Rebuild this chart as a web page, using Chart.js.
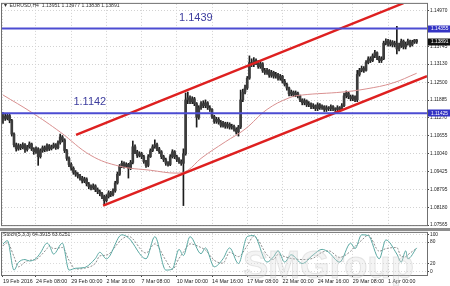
<!DOCTYPE html>
<html>
<head>
<meta charset="utf-8">
<script src="https://cdn.jsdelivr.net/npm/chart.js@4.4.0/dist/chart.umd.min.js"></script>
<style>
  body { margin: 0; background: #fff; width: 450px; height: 286px; overflow: hidden; position: relative; }
  canvas { position: absolute; left: 0; }
  #main { top: 0; }
  #stoch { top: 229px; }
  #sep { position: absolute; left: 0; top: 228px; width: 450px; height: 3px; background: #8e8e8e; }
</style>
</head>
<body>
<div id="sep"></div>
<canvas id="main" width="450" height="229"></canvas>
<canvas id="stoch" width="450" height="57"></canvas>
<script>
// EURUSD H4 bars
const firstOpen = 1.1128;
const closes = [
  1.1132,1.1125,1.1135,1.1118,1.1071,1.1034,1.1020,1.1031,1.1024,1.1034,
  1.1017,1.1027,1.1037,1.1020,1.1010,1.1020,1.0993,1.1014,1.1024,1.1017,
  1.1031,1.1020,1.1027,1.1034,1.1024,1.1041,1.1061,1.1051,1.1014,1.0987,
  1.0966,1.0953,1.0939,1.0932,1.0926,1.0919,1.0909,1.0916,1.0899,1.0889,
  1.0886,1.0892,1.0879,1.0872,1.0865,1.0855,1.0841,1.0855,1.0868,1.0862,
  1.0875,1.0902,1.0932,1.0960,1.0970,1.0960,1.0966,1.0953,1.0973,1.1027,
  1.1010,1.0997,1.1003,1.0993,1.0976,1.0963,1.0993,1.1014,1.1027,1.1034,
  1.1020,1.1010,1.0993,1.0983,1.0970,1.0966,1.0993,1.1010,1.0993,1.0983,
  1.0976,1.0970,1.1003,1.1189,1.1196,1.1183,1.1193,1.1176,1.1129,1.1162,
  1.1176,1.1169,1.1179,1.1162,1.1156,1.1132,1.1115,1.1122,1.1112,1.1101,
  1.1108,1.1098,1.1105,1.1095,1.1098,1.1088,1.1078,1.1095,1.1189,1.1216,
  1.1230,1.1264,1.1318,1.1311,1.1325,1.1318,1.1304,1.1314,1.1291,1.1284,
  1.1291,1.1274,1.1284,1.1271,1.1277,1.1264,1.1271,1.1254,1.1243,1.1230,
  1.1210,1.1216,1.1206,1.1213,1.1203,1.1189,1.1179,1.1186,1.1172,1.1176,
  1.1166,1.1169,1.1159,1.1172,1.1162,1.1166,1.1156,1.1162,1.1159,1.1166,
  1.1159,1.1156,1.1162,1.1156,1.1169,1.1203,1.1213,1.1200,1.1193,1.1200,
  1.1189,1.1277,1.1291,1.1298,1.1291,1.1318,1.1331,1.1325,1.1341,1.1352,
  1.1335,1.1325,1.1331,1.1385,1.1392,1.1382,1.1389,1.1379,1.1385,1.1365,
  1.1375,1.1392,1.1372,1.1382,1.1392,1.1379,1.1389,1.1396,1.1389
];
const highs = [
  1.1145,1.1140,1.1142,1.1140,1.1122,1.1075,1.1040,1.1038,1.1036,1.1041,
  1.1038,1.1032,1.1044,1.1040,1.1024,1.1027,1.1024,1.1020,1.1030,1.1030,
  1.1037,1.1035,1.1033,1.1040,1.1038,1.1048,1.1071,1.1066,1.1055,1.1018,
  1.0992,1.0972,1.0958,1.0945,1.0938,1.0932,1.0925,1.0922,1.0920,1.0904,
  1.0896,1.0899,1.0896,1.0885,1.0878,1.0870,1.0860,1.0862,1.0875,1.0873,
  1.0882,1.0908,1.0940,1.0966,1.0978,1.0975,1.0972,1.0970,1.0980,1.1047,
  1.1034,1.1015,1.1010,1.1008,1.0998,1.0980,1.1000,1.1020,1.1034,1.1051,
  1.1040,1.1025,1.1014,1.0998,1.0988,1.0976,1.1000,1.1017,1.1014,1.0998,
  1.0990,1.0982,1.1020,1.1213,1.1216,1.1203,1.1200,1.1198,1.1180,1.1169,
  1.1183,1.1186,1.1189,1.1183,1.1169,1.1159,1.1136,1.1129,1.1128,1.1118,
  1.1115,1.1112,1.1112,1.1110,1.1105,1.1102,1.1093,1.1101,1.1223,1.1226,
  1.1240,1.1270,1.1341,1.1331,1.1335,1.1331,1.1325,1.1321,1.1318,1.1298,
  1.1298,1.1294,1.1291,1.1288,1.1284,1.1281,1.1277,1.1274,1.1260,1.1247,
  1.1233,1.1223,1.1220,1.1220,1.1216,1.1206,1.1193,1.1193,1.1189,1.1183,
  1.1179,1.1176,1.1172,1.1179,1.1176,1.1172,1.1169,1.1169,1.1166,1.1172,
  1.1169,1.1162,1.1169,1.1166,1.1176,1.1213,1.1220,1.1216,1.1206,1.1206,
  1.1203,1.1291,1.1298,1.1306,1.1304,1.1325,1.1338,1.1338,1.1348,1.1360,
  1.1355,1.1340,1.1338,1.1392,1.1400,1.1398,1.1396,1.1394,1.1392,1.1443,
  1.1385,1.1399,1.1396,1.1389,1.1399,1.1396,1.1395,1.1398,1.1398
];
const lows = [
  1.1108,1.1118,1.1120,1.1110,1.1064,1.1027,1.1012,1.1015,1.1017,1.1020,
  1.1008,1.1012,1.1022,1.1014,1.1001,1.1004,1.0963,1.0988,1.1008,1.1010,
  1.1012,1.1014,1.1016,1.1022,1.1018,1.1020,1.1036,1.1044,1.1007,1.0980,
  1.0958,1.0946,1.0932,1.0925,1.0919,1.0912,1.0902,1.0903,1.0892,1.0882,
  1.0878,1.0880,1.0872,1.0865,1.0858,1.0848,1.0828,1.0836,1.0850,1.0855,
  1.0857,1.0870,1.0898,1.0928,1.0955,1.0953,1.0955,1.0919,1.0948,1.0968,
  1.1003,1.0990,1.0992,1.0986,1.0970,1.0956,1.0958,1.0990,1.1010,1.1022,
  1.1014,1.1004,1.0986,1.0976,1.0963,1.0960,1.0962,1.0988,1.0986,1.0976,
  1.0970,1.0963,1.0824,1.0998,1.1176,1.1176,1.1176,1.1169,1.1095,1.1122,
  1.1156,1.1162,1.1162,1.1156,1.1149,1.1125,1.1108,1.1108,1.1105,1.1095,
  1.1095,1.1091,1.1091,1.1088,1.1088,1.1081,1.1071,1.1064,1.1090,1.1183,
  1.1210,1.1225,1.1260,1.1304,1.1304,1.1311,1.1298,1.1298,1.1284,1.1277,
  1.1277,1.1267,1.1267,1.1264,1.1264,1.1257,1.1257,1.1247,1.1237,1.1223,
  1.1203,1.1203,1.1200,1.1200,1.1196,1.1183,1.1172,1.1172,1.1166,1.1166,
  1.1159,1.1159,1.1152,1.1152,1.1156,1.1156,1.1149,1.1149,1.1152,1.1152,
  1.1152,1.1149,1.1149,1.1149,1.1152,1.1166,1.1196,1.1193,1.1186,1.1186,
  1.1183,1.1183,1.1271,1.1286,1.1284,1.1288,1.1314,1.1318,1.1321,1.1335,
  1.1328,1.1318,1.1318,1.1328,1.1379,1.1375,1.1375,1.1372,1.1372,1.1348,
  1.1358,1.1370,1.1365,1.1365,1.1378,1.1372,1.1375,1.1384,1.1384
];

// moving average (pink), sampled at bar indexes
const maIdx  = [0, 13, 26, 40, 53, 67, 79, 84, 90, 101, 110, 120, 130, 136, 154, 165, 177, 188];
const maVals = [1.1206,1.1146,1.1078,1.0997,1.0960,1.0946,1.0936,1.0946,1.0987,1.1044,1.1088,1.1156,1.1196,1.1206,1.1216,1.1227,1.1247,1.1281];

// trend channel (red) and levels (blue)
const channelUp  = [[33.2, 1.1068], [182, 1.1523]];
const channelLow = [[45.5, 1.0824], [192.7, 1.1271]];
const levels = [1.14355, 1.11425];
const levelText = ['1.1439', '1.1142'];
const levelTextIdx = [80, 32];
const lastPrice = 1.13891;

// axes
const priceTicks = [1.07565,1.08180,1.08795,1.09425,1.10040,1.10655,1.11270,1.11885,1.12500,1.13130,1.13745,1.14355,1.14970];
const timeTickIdx = [0, 15, 31, 47, 63, 79, 95, 111, 127, 143, 159, 175];
const timeLabels = ['19 Feb 2016','24 Feb 08:00','29 Feb 00:00','2 Mar 16:00','7 Mar 08:00','10 Mar 00:00',
  '14 Mar 16:00','17 Mar 08:00','22 Mar 00:00','24 Mar 16:00','29 Mar 08:00','1 Apr 00:00'];

// Stoch(5,3,3)
const stochIdx = [0,2,5,7,10,12,15,17,20,21,23,27,30,33,37,42,44,47,54,57,65,69,74,77,80,82,85,90,92,96,
  100,103,107,111,114,120,123,125,128,131,136,141,145,148,153,158,160,163,166,171,174,179,181,183,184,188];
const stochMain = [75,84,3,24,32,28,35,50,77,72,47,77,3,8,10,35,52,34,100,92,34,95,3,6,60,43,95,48,64,12,
  34,64,21,95,98,25,40,56,25,45,21,45,60,52,25,77,62,100,98,34,86,47,25,56,34,64];
const stochSignal = [70,78,40,12,25,30,32,42,62,70,62,65,30,6,8,22,42,44,88,96,50,75,30,5,35,52,75,65,58,30,
  22,52,40,70,96,45,32,46,40,35,32,36,52,56,38,55,68,85,99,55,62,65,40,40,45,63];
const stochTicks = [0, 20, 80, 100];

const FONT = "'Liberation Sans', Arial, sans-serif";
const X_MIN = -0.45, X_MAX = 192.7;

const wicks = closes.map((c, i) => ({ x: i, y: [lows[i], highs[i]] }));
const bodies = closes.map((c, i) => ({ x: i, y: [i ? closes[i - 1] : firstOpen, c] }));
const pairs = (xs, ys) => xs.map((x, i) => ({ x: x, y: ys[i] }));

const frame = (chart) => {
  const { ctx, chartArea: a } = chart;
  ctx.save();
  ctx.strokeStyle = '#707070';
  ctx.lineWidth = 1;
  ctx.strokeRect(a.left - 0.5, a.top - 0.5, a.right - a.left + 1, a.bottom - a.top + 1);
  ctx.restore();
};

const mainDecor = {
  id: 'mainDecor',
  afterDraw(chart) {
    const { ctx, scales } = chart;
    frame(chart);
    ctx.save();
    ctx.fillStyle = '#333';
    ctx.font = '5.1px ' + FONT;
    ctx.textBaseline = 'middle';
    ctx.fillText('\u25BC EURUSD,H4  1.13951 1.13977 1.13838 1.13891', 3, 5.5);

    ctx.font = '11px ' + FONT;
    ctx.fillStyle = '#3d3d9e';
    ctx.textBaseline = 'alphabetic';
    levels.forEach((v, k) => {
      const y = scales.y.getPixelForValue(v);
      ctx.fillText(levelText[k], scales.x.getPixelForValue(levelTextIdx[k]), y - 8);
    });

    // price boxes on the axis
    const box = (v, bg) => {
      const y = scales.y.getPixelForValue(v);
      ctx.fillStyle = bg;
      ctx.fillRect(428, Math.round(y) - 3.5, 22, 7);
      ctx.fillStyle = '#fff';
      ctx.font = '4.8px ' + FONT;
      ctx.textBaseline = 'middle';
      ctx.fillText(v.toFixed(5), 431, y);
    };
    levels.forEach(v => box(v, '#3434c4'));
    box(lastPrice, '#111');
    ctx.restore();
  }
};

const stochDecor = {
  id: 'stochDecor',
  afterDraw(chart) {
    const { ctx } = chart;
    frame(chart);
    ctx.save();
    ctx.fillStyle = '#333';
    ctx.font = '5.1px ' + FONT;
    ctx.textBaseline = 'middle';
    ctx.fillText('Stoch(5,3,3) 64.3915 63.6251', 3, 5.5);
    // watermark
    ctx.font = 'bold 38px ' + FONT;
    ctx.textBaseline = 'alphabetic';
    ctx.fillStyle = 'rgba(215,215,215,0.28)';
    ctx.strokeStyle = 'rgba(190,190,190,0.35)';
    ctx.lineWidth = 1;
    ctx.fillText('SMGroup', 243, 49);
    ctx.strokeText('SMGroup', 243, 49);
    ctx.restore();
  }
};

const xGrid = {
  type: 'linear', min: X_MIN, max: X_MAX, offset: false,
  afterBuildTicks(s) { s.ticks = timeTickIdx.map(v => ({ value: v })); },
  grid: { color: '#d2d2d2', tickLength: 2, tickColor: '#444', offset: false },
  border: { display: false, dash: [1, 2] }
};

new Chart(document.getElementById('main'), {
  type: 'bar',
  data: {
    datasets: [
      { type: 'line', data: [{ x: X_MIN, y: levels[0] }, { x: X_MAX, y: levels[0] }],
        borderColor: '#4c4cd2', borderWidth: 2, pointRadius: 0, order: 0 },
      { type: 'line', data: [{ x: X_MIN, y: levels[1] }, { x: X_MAX, y: levels[1] }],
        borderColor: '#4c4cd2', borderWidth: 2, pointRadius: 0, order: 0 },
      { type: 'line', data: channelUp.map(p => ({ x: p[0], y: p[1] })),
        borderColor: '#de2020', borderWidth: 2.5, pointRadius: 0, order: 1 },
      { type: 'line', data: channelLow.map(p => ({ x: p[0], y: p[1] })),
        borderColor: '#de2020', borderWidth: 2.5, pointRadius: 0, order: 1 },
      { type: 'line', data: pairs(maIdx, maVals),
        borderColor: '#d99090', borderWidth: 1, pointRadius: 0, tension: 0.4, order: 2 },
      { data: bodies, backgroundColor: '#3c3c3c', barThickness: 2, grouped: false, order: 3 },
      { data: wicks, backgroundColor: '#1c1c1c', barThickness: 1, grouped: false, order: 4 }
    ]
  },
  options: {
    responsive: false, animation: false, devicePixelRatio: 1,
    layout: { padding: { left: 2, top: 2, right: 0, bottom: 1 } },
    plugins: { legend: { display: false }, tooltip: { enabled: false } },
    scales: {
      x: Object.assign({}, xGrid, {
        afterFit(s) { s.height = 0; },
        ticks: { display: false },
        grid: { color: '#d2d2d2', drawTicks: false, offset: false }
      }),
      y: {
        type: 'linear', position: 'right', min: 1.07565, max: 1.15207,
        afterFit(s) { s.width = 23; },
        afterBuildTicks(s) { s.ticks = priceTicks.map(v => ({ value: v })); },
        ticks: { autoSkip: false, padding: 1, color: '#222', font: { family: FONT, size: 4.8 },
          callback: v => v.toFixed(5) },
        grid: { color: '#d2d2d2', tickLength: 2, tickColor: '#444' },
        border: { display: true, color: '#606060', dash: [1, 2] }
      }
    }
  },
  plugins: [mainDecor]
});

new Chart(document.getElementById('stoch'), {
  type: 'line',
  data: {
    datasets: [
      { data: pairs(stochIdx, stochMain), borderColor: '#5aa8a2', borderWidth: 1, pointRadius: 0,
        cubicInterpolationMode: 'monotone' },
      { data: pairs(stochIdx, stochSignal), borderColor: '#8c8c8c', borderWidth: 1, borderDash: [2, 1.5],
        pointRadius: 0, cubicInterpolationMode: 'monotone' }
    ]
  },
  options: {
    responsive: false, animation: false, devicePixelRatio: 1,
    layout: { padding: { left: 2, top: 2, right: 0, bottom: 0 } },
    plugins: { legend: { display: false }, tooltip: { enabled: false } },
    scales: {
      x: Object.assign({}, xGrid, {
        afterFit(s) { s.height = 11; },
        ticks: { autoSkip: false, maxRotation: 0, align: 'start', padding: 1, color: '#222',
          font: { family: FONT, size: 5.3 }, callback: (v, i) => timeLabels[i] }
      }),
      y: {
        type: 'linear', position: 'right', min: -10.5, max: 105.3,
        afterFit(s) { s.width = 23; },
        afterBuildTicks(s) { s.ticks = stochTicks.map(v => ({ value: v })); },
        ticks: { autoSkip: false, padding: 1, color: '#222', font: { family: FONT, size: 4.8 } },
        grid: { color: '#dadada', tickLength: 2, tickColor: '#444' },
        border: { display: true, color: '#606060', dash: [1, 2] }
      }
    }
  },
  plugins: [stochDecor]
});
</script>
</body>
</html>
